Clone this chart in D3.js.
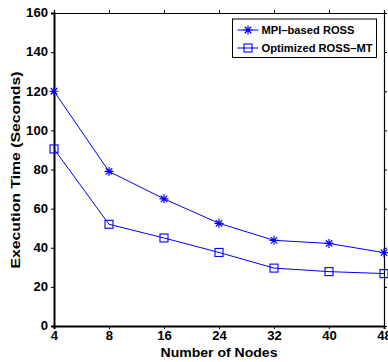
<!DOCTYPE html>
<html>
<head>
<meta charset="utf-8">
<script src="https://cdn.jsdelivr.net/npm/d3@7"></script>
<style>
  body { margin: 0; background: #fff; }
  svg { display: block; font-family: "Liberation Sans", Arial, sans-serif; font-weight: bold; }
</style>
</head>
<body>
<div id="chart"></div>
<script>
const nodes = ['4', '8', '16', '24', '32', '40', '48'];
const mpiRoss = [120, 79, 65, 52.5, 43.8, 42.2, 37.5];
const rossMT = [90.5, 52, 45, 37.6, 29.6, 27.8, 26.8];
const yTicks = [0, 20, 40, 60, 80, 100, 120, 140, 160];
const seriesNames = ['MPI\u2013based ROSS', 'Optimized ROSS\u2013MT'];

const W = 388, H = 362;
const margin = { top: 13, right: 4, bottom: 36, left: 54 };
const width = W - margin.left - margin.right;
const height = H - margin.top - margin.bottom;

const svg = d3.select('#chart').append('svg')
  .attr('width', W)
  .attr('height', H);

const g = svg.append('g')
  .attr('transform', `translate(${margin.left}, ${margin.top})`);

const x = d3.scalePoint()
  .domain(nodes)
  .range([0, width]);

const y = d3.scaleLinear()
  .domain([0, 160])
  .range([height, 0]);

// axes, ticks outward all round like the matlab box
const xAxis = g.append('g')
  .attr('transform', `translate(0, ${height})`)
  .call(d3.axisBottom(x).tickSize(3).tickPadding(2));
const yAxis = g.append('g')
  .call(d3.axisLeft(y).tickValues(yTicks).tickSize(3).tickPadding(3));
const xTop = g.append('g')
  .call(d3.axisTop(x).tickSize(3).tickFormat(''));
const yRight = g.append('g')
  .attr('transform', `translate(${width}, 0)`)
  .call(d3.axisRight(y).tickValues(yTicks).tickSize(3).tickFormat(''));

[xAxis, yAxis, xTop, yRight].forEach(a => {
  a.select('.domain').attr('stroke', '#000').attr('stroke-width', 1.2);
  a.selectAll('.tick line').attr('stroke', '#000');
  a.selectAll('.tick text')
    .attr('fill', '#000')
    .attr('textLength', function () { return this.textContent.length * 7.3; })
    .attr('lengthAdjust', 'spacingAndGlyphs')
    .style('font-size', '12px')
    .style('font-weight', 'bold')
    .style('font-family', '"Liberation Sans", Arial, sans-serif');
});
xAxis.select('.domain').attr('stroke-width', 2);
yAxis.select('.domain').attr('stroke-width', 2);

// axis titles
g.append('text')
  .attr('x', width / 2)
  .attr('y', height + 31)
  .attr('text-anchor', 'middle')
  .attr('textLength', 117)
  .attr('lengthAdjust', 'spacingAndGlyphs')
  .style('font-size', '12.5px')
  .text('Number of Nodes');

g.append('text')
  .attr('transform', `translate(${-34}, ${height / 2 + 0.5}) rotate(-90)`)
  .attr('text-anchor', 'middle')
  .attr('textLength', 197)
  .attr('lengthAdjust', 'spacingAndGlyphs')
  .style('font-size', '13.5px')
  .text('Execution Time (Seconds)');

// lines
const line = d3.line()
  .x((d, i) => x(nodes[i]))
  .y(d => y(d));

const color = 'rgb(0,0,255)';

[mpiRoss, rossMT].forEach(vals => {
  g.append('path')
    .datum(vals)
    .attr('fill', 'none')
    .attr('stroke', color)
    .attr('stroke-width', 1)
    .attr('d', line);
});

function starPath(cx, cy, r) {
  const d = r * 0.72;
  return `M${cx - r},${cy}L${cx + r},${cy}` +
    `M${cx},${cy - r}L${cx},${cy + r}` +
    `M${cx - d},${cy - d}L${cx + d},${cy + d}` +
    `M${cx - d},${cy + d}L${cx + d},${cy - d}`;
}

g.selectAll('.star')
  .data(mpiRoss)
  .enter()
  .append('path')
  .attr('class', 'star')
  .attr('d', (d, i) => starPath(x(nodes[i]), y(d), 4.5))
  .attr('stroke', color)
  .attr('stroke-width', 1.2)
  .attr('fill', 'none');

g.selectAll('.sq')
  .data(rossMT)
  .enter()
  .append('rect')
  .attr('class', 'sq')
  .attr('x', (d, i) => x(nodes[i]) - 4)
  .attr('y', d => y(d) - 4)
  .attr('width', 8)
  .attr('height', 8)
  .attr('stroke', color)
  .attr('stroke-width', 1.1)
  .attr('fill', 'none');

// legend
const legend = svg.append('g')
  .attr('transform', 'translate(232.5, 19)');

legend.append('rect')
  .attr('width', 144)
  .attr('height', 38.5)
  .attr('fill', '#fff')
  .attr('stroke', '#000')
  .attr('stroke-width', 1);

const legendWidths = [93, 111];

seriesNames.forEach((name, i) => {
  const ly = 11 + i * 18;
  legend.append('line')
    .attr('x1', 5).attr('x2', 26)
    .attr('y1', ly).attr('y2', ly)
    .attr('stroke', color)
    .attr('stroke-width', 1);
  if (i === 0) {
    legend.append('path')
      .attr('d', starPath(15.5, ly, 4.5))
      .attr('stroke', color)
      .attr('stroke-width', 1.2)
      .attr('fill', 'none');
  } else {
    legend.append('rect')
      .attr('x', 11.5).attr('y', ly - 4)
      .attr('width', 8).attr('height', 8)
      .attr('stroke', color)
      .attr('stroke-width', 1.1)
      .attr('fill', 'none');
  }
  legend.append('text')
    .attr('x', 29)
    .attr('y', ly + 3.5)
    .attr('textLength', legendWidths[i])
    .attr('lengthAdjust', 'spacingAndGlyphs')
    .style('font-size', '10px')
    .text(name);
});
</script>
</body>
</html>
